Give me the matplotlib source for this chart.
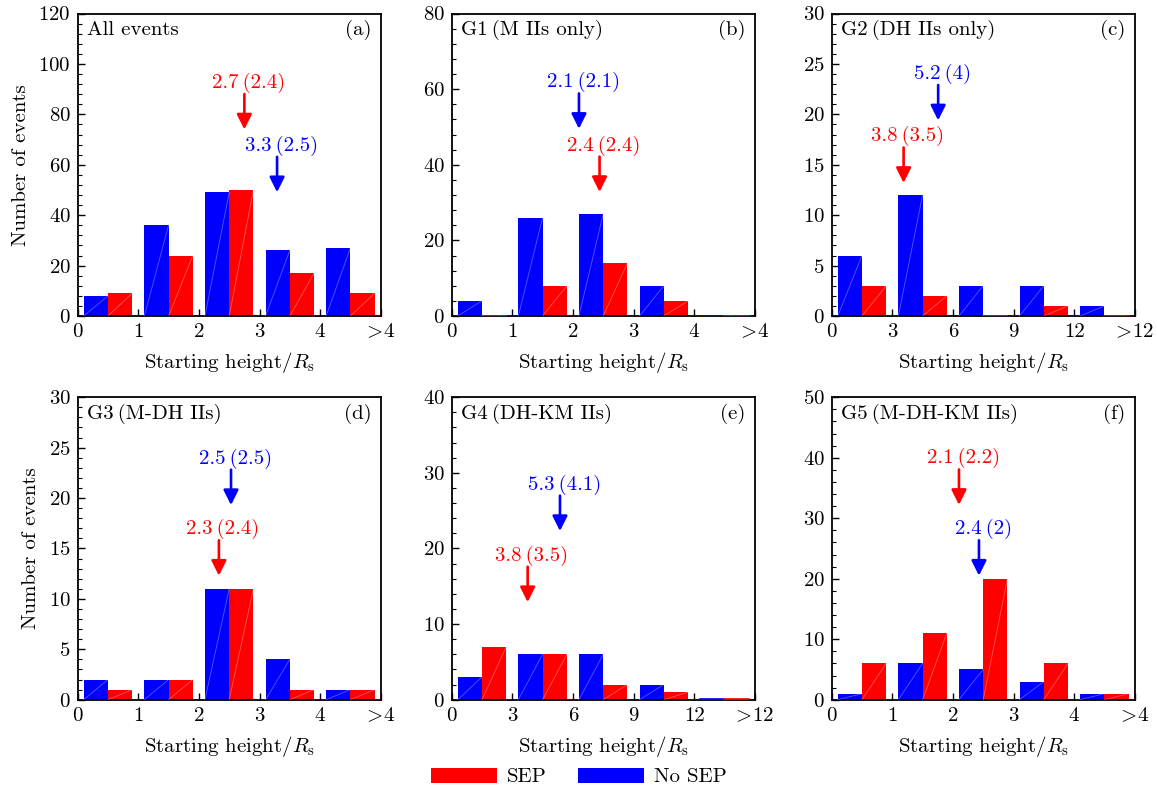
import matplotlib
matplotlib.use("Agg")
import matplotlib.pyplot as plt
from matplotlib.ticker import MultipleLocator, AutoMinorLocator
from matplotlib.patches import Patch

plt.rcParams['font.family'] = ['cmr10', 'DejaVu Serif']
plt.rcParams['mathtext.fontset'] = 'cm'
plt.rcParams['axes.formatter.use_mathtext'] = True

# ---------------- data ----------------
panel_titles = ["All events", "G1\u2009(M IIs only)", "G2\u2009(DH IIs only)",
                "G3\u2009(M-DH IIs)", "G4\u2009(DH-KM IIs)", "G5\u2009(M-DH-KM IIs)"]
panel_tags = ["(a)", "(b)", "(c)", "(d)", "(e)", "(f)"]

xticks_small = ["0", "1", "2", "3", "4", r"$\!>\!$4"]
xticks_large = ["0", "3", "6", "9", "12", r"$\!>\!$12"]
bin_scale = [1, 1, 3, 1, 3, 1]       # width of a bin in R_s units
ymax = [120, 80, 30, 30, 40, 50]
ystep = [20, 20, 5, 5, 10, 10]

nosep_a = [8, 36, 49, 26, 27]
sep_a = [9, 24, 50, 17, 9]
nosep_b = [4, 26, 27, 8, 0]
sep_b = [0, 8, 14, 4, 0]
nosep_c = [6, 12, 3, 3, 1]
sep_c = [3, 2, 0, 1, 0]
nosep_d = [2, 2, 11, 4, 1]
sep_d = [1, 2, 11, 1, 1]
nosep_e = [3, 6, 6, 2, 0]
sep_e = [7, 6, 2, 1, 0]
nosep_f = [1, 6, 5, 3, 1]
sep_f = [6, 11, 20, 6, 1]

nosep_all = [nosep_a, nosep_b, nosep_c, nosep_d, nosep_e, nosep_f]
sep_all = [sep_a, sep_b, sep_c, sep_d, sep_e, sep_f]

# arrows: (label, x position in R_s, tip height)
sep_labels = ["2.7\u2009(2.4)", "2.4\u2009(2.4)", "3.8\u2009(3.5)", "2.3\u2009(2.4)", "3.8\u2009(3.5)", "2.1\u2009(2.2)"]
sep_arrow_x = [2.75, 2.44, 3.56, 2.33, 3.76, 2.10]
sep_arrow_tip = [74, 32.8, 13.2, 12.3, 12.9, 32.2]
nosep_labels = ["3.3\u2009(2.5)", "2.1\u2009(2.1)", "5.2\u2009(4)", "2.5\u2009(2.5)", "5.3\u2009(4.1)", "2.4\u2009(2)"]
nosep_arrow_x = [3.29, 2.10, 5.27, 2.53, 5.36, 2.43]
nosep_arrow_tip = [49.1, 49.5, 19.4, 19.3, 22.3, 20.5]

RED = "#ff0000"
BLUE = "#0000ff"

W, H = 1157, 792
fig = plt.figure(figsize=(W / 100, H / 100), dpi=100)

col_left = [77.7, 451.7, 831.7]
row_bottom = [316, 699.7]
aw, ah = 303, 302.5

FS = 15

for k in range(6):
    r, c = divmod(k, 3)
    ax = fig.add_axes([col_left[c] / W, 1 - row_bottom[r] / H, aw / W, ah / H])
    idx = list(range(5))
    ax.bar([i + 0.1 for i in idx], nosep_all[k], width=0.4, align='edge',
           color=BLUE, linewidth=0, zorder=2)
    ax.bar([i + 0.5 for i in idx], sep_all[k], width=0.4, align='edge',
           color=RED, linewidth=0, zorder=2)
    for i in idx:
        for x0, v, col in [(i + 0.1, nosep_all[k][i], BLUE), (i + 0.5, sep_all[k][i], RED)]:
            if v == 0:
                ax.plot([x0, x0 + 0.4], [0.0015 * ymax[k]] * 2, color=col, lw=1.2, zorder=3)
            else:
                ax.plot([x0, x0 + 0.4], [0, v], color='white', alpha=0.35, lw=0.6, zorder=3)

    ax.set_xlim(0, 5)
    ax.set_ylim(0, ymax[k])
    ax.set_xticks(range(6))
    ax.set_xticklabels(xticks_large if bin_scale[k] == 3 else xticks_small, fontsize=FS)
    ax.yaxis.set_major_locator(MultipleLocator(ystep[k]))
    ax.yaxis.set_minor_locator(AutoMinorLocator(5))
    ax.tick_params(axis='y', which='major', direction='in', length=5, width=1, labelsize=FS, pad=5)
    ax.tick_params(axis='y', which='minor', direction='in', length=3, width=0.8)
    ax.tick_params(axis='x', which='major', direction='in', length=5, width=1, labelsize=FS, pad=5)
    for sp in ax.spines.values():
        sp.set_linewidth(1.3)

    ax.set_xlabel(r"Starting height$/R_\mathrm{s}$", fontsize=FS, labelpad=6)
    if c == 0:
        ax.set_ylabel("Number of events", fontsize=FS, labelpad=6)

    ax.text(0.03, 0.945, panel_titles[k], transform=ax.transAxes, ha='left', va='center', fontsize=FS)
    ax.text(0.97, 0.945, panel_tags[k], transform=ax.transAxes, ha='right', va='center', fontsize=FS)

    for lab, xv, tip, col in [(sep_labels[k], sep_arrow_x[k], sep_arrow_tip[k], RED),
                              (nosep_labels[k], nosep_arrow_x[k], nosep_arrow_tip[k], BLUE)]:
        xp = xv / bin_scale[k]
        ax.annotate('', xy=(xp, tip), xytext=(0, 25.5), textcoords='offset points',
                    xycoords='data',
                    arrowprops=dict(arrowstyle='-|>,head_length=0.9,head_width=0.45',
                                    color=col, lw=1.9, shrinkA=0, shrinkB=0))
        ax.annotate(lab, xy=(xp, tip), xytext=(3, 33.5), textcoords='offset points',
                    ha='center', va='center', color=col, fontsize=FS)

handles = [Patch(facecolor=RED, edgecolor='none', label='SEP'),
           Patch(facecolor=BLUE, edgecolor='none', label='No SEP')]
fig.legend(handles=handles, loc='center', bbox_to_anchor=(0.5, 1 - 777 / H), ncol=2,
           frameon=False, fontsize=FS, handlelength=3.2, handleheight=0.75,
           columnspacing=1.5, handletextpad=0.45)

fig.savefig("out.png", dpi=100)
